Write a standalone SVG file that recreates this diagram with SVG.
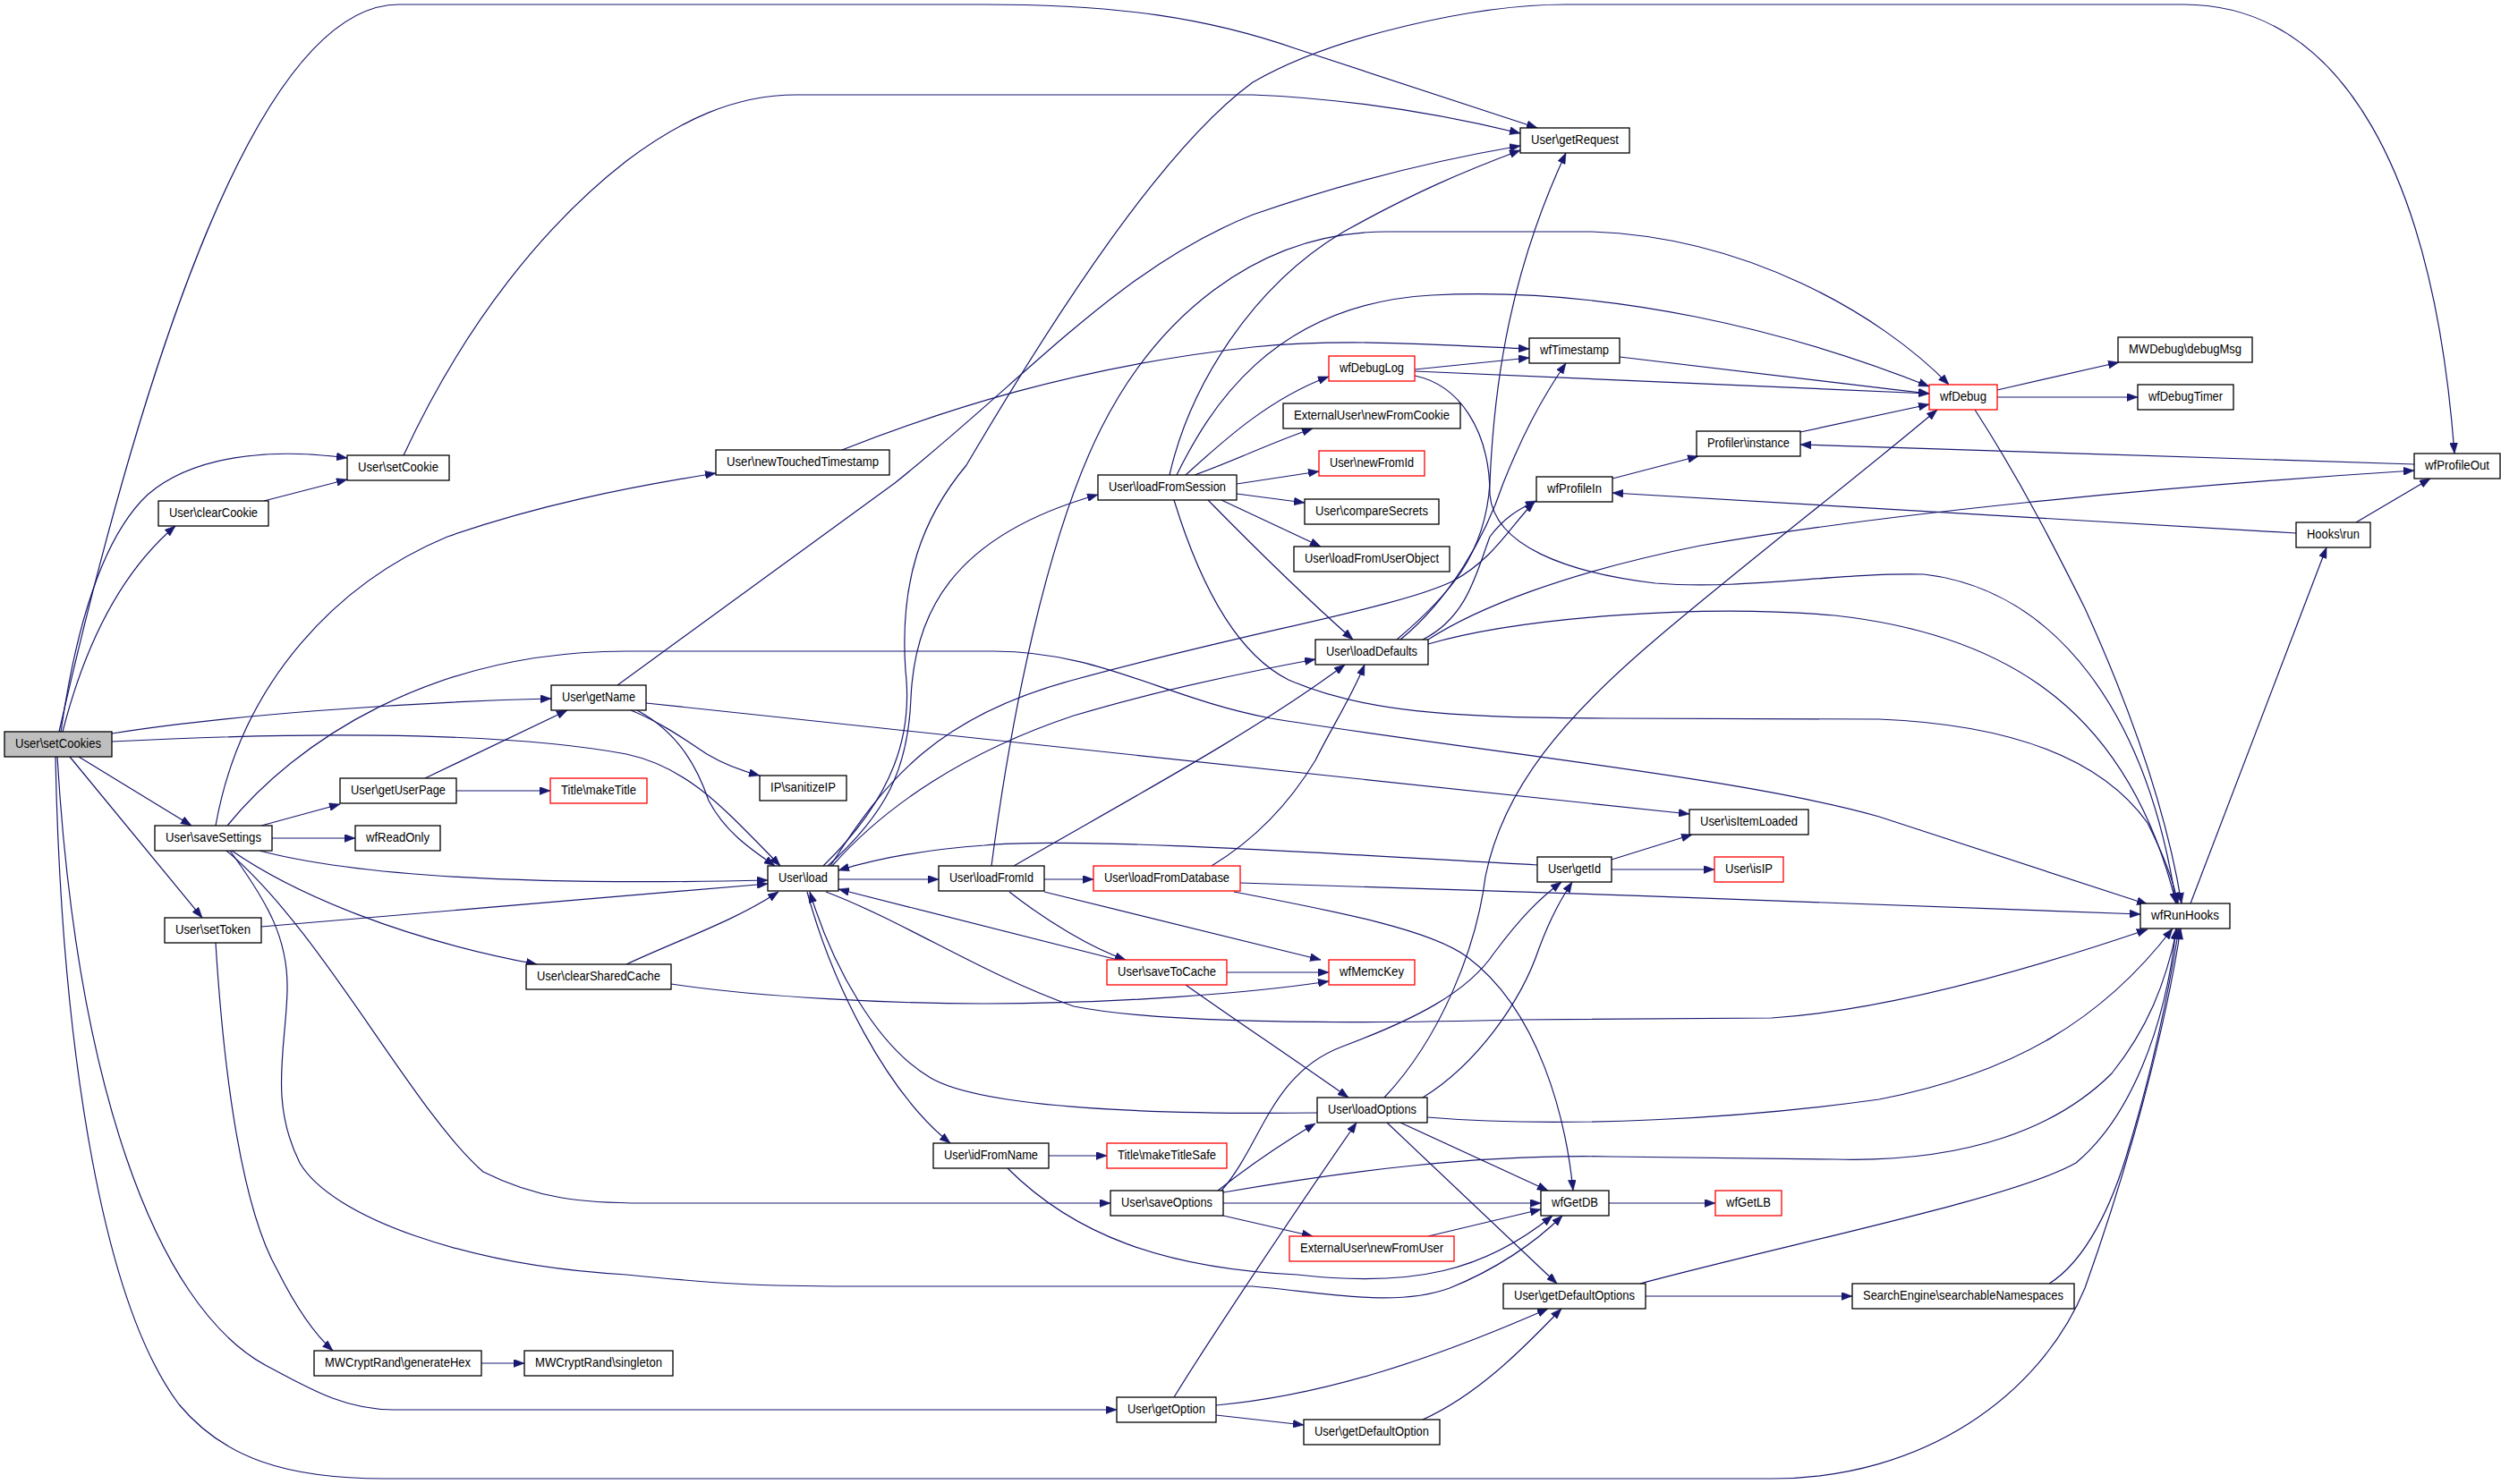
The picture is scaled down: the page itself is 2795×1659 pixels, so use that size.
<svg xmlns="http://www.w3.org/2000/svg" width="2795" height="1659" viewBox="0 0 2795 1659">
<style>
.n rect{fill:#fff;stroke:#000;stroke-width:1.3}
.n.r rect{stroke:#ff0000}
.n.g rect{fill:#bfbfbf}
.n text{font-family:"Liberation Sans",Arial,sans-serif;font-size:14.5px;text-anchor:middle;fill:#000}
.e path{fill:none;stroke:#191970;stroke-width:1.2;marker-end:url(#a)}
</style>
<defs>
<marker id="a" viewBox="0 0 12 9" refX="12" refY="4.5" markerWidth="12" markerHeight="9" markerUnits="userSpaceOnUse" orient="auto">
<path d="M0,0 L12,4.5 L0,9 z" fill="#191970" stroke="#191970" stroke-width="0.5"/>
</marker>
</defs>
<rect width="2795" height="1659" fill="#fff"/>
<g class="e" id="edges">
<path d="M66,818 C150,450 280,5 446,5 L1100,5 C1250,5 1350,20 1450,55 L1718,143"/>
<path d="M68,818 C85,700 115,600 165,553 C215,510 300,500 388,512"/>
<path d="M70,818 C95,720 135,640 196,588"/>
<path d="M295,560 L388,536"/>
<path d="M451,509 C520,360 610,250 700,180 C760,135 820,106 890,106 L1400,106 C1500,110 1600,125 1699,149"/>
<path d="M125,820 C250,800 450,785 616,781"/>
<path d="M125,829 C300,820 550,815 700,843 C770,858 810,905 872,968"/>
<path d="M88,846 L214,923"/>
<path d="M78,846 L226,1026"/>
<path d="M64,846 C85,1200 170,1460 300,1528 C345,1552 385,1576 440,1576 L1248,1576"/>
<path d="M62,846 C68,1150 110,1450 200,1570 C250,1630 320,1653 430,1653 L1980,1653 C2150,1653 2280,1560 2330,1440 C2380,1300 2420,1150 2437,1038"/>
<path d="M241,923 C270,760 380,650 500,600 C600,565 700,545 800,529"/>
<path d="M254,923 C330,830 480,728 700,728 L1110,728 C1230,728 1300,780 1420,803 C1650,840 1950,870 2100,913 L2400,1011"/>
<path d="M292,923 L380,899"/>
<path d="M304,937 L397,937"/>
<path d="M290,951 C400,980 600,990 858,984"/>
<path d="M259,951 C330,1000 450,1050 600,1078"/>
<path d="M253,951 C360,1040 460,1240 540,1310 C600,1340 650,1345 720,1345 L1241,1345"/>
<path d="M257,951 C300,1010 322,1050 321,1106 C320,1170 300,1230 335,1300 C370,1360 520,1415 700,1425 C800,1435 850,1438 950,1438 L1400,1438 C1480,1445 1560,1462 1620,1440 C1670,1420 1715,1390 1746,1359"/>
<path d="M475,870 L634,794"/>
<path d="M510,884 L615,884"/>
<path d="M690,766 L1000,540 C1150,420 1250,300 1400,240 C1500,205 1600,180 1699,163"/>
<path d="M712,794 C760,820 780,860 792,895 C810,930 840,950 866,968"/>
<path d="M705,794 C740,808 770,830 790,843 C810,855 830,862 849,867"/>
<path d="M722,786 L1888,910"/>
<path d="M920,968 C1000,890 1020,820 1012,750 C1005,650 1030,580 1080,520 C1180,350 1300,165 1400,92 C1490,40 1650,5 1750,5 L2440,5 C2620,5 2720,200 2743,507"/>
<path d="M925,968 C990,910 1015,860 1018,780 C1022,690 1060,600 1227,553"/>
<path d="M928,968 C990,870 1050,800 1200,760 C1400,705 1560,680 1623,650 C1670,625 1690,585 1715,561"/>
<path d="M930,968 C990,900 1080,840 1200,800 C1300,770 1400,750 1470,737"/>
<path d="M937,983 L1049,983"/>
<path d="M902,997 C930,1100 990,1220 1062,1278"/>
<path d="M923,997 C1010,1030 1100,1090 1200,1125 C1300,1145 1500,1145 1700,1140 L1980,1138 C2100,1130 2250,1090 2400,1039"/>
<path d="M1472,1244 C1300,1246 1100,1240 1040,1205 C980,1170 930,1080 905,997"/>
<path d="M1718,967 C1500,955 1200,935 1100,945 C1030,950 980,960 937,973"/>
<path d="M1249,1073 L937,994"/>
<path d="M700,1078 C760,1050 820,1030 870,997"/>
<path d="M292,1036 L858,988"/>
<path d="M750,1100 C850,1115 1000,1122 1100,1122 C1250,1122 1400,1110 1485,1097"/>
<path d="M241,1054 C250,1200 270,1350 310,1420 C330,1460 350,1490 372,1510"/>
<path d="M538,1524 L586,1524"/>
<path d="M1167,983 L1222,983"/>
<path d="M1108,968 C1130,800 1170,600 1230,480 C1290,360 1400,259 1550,259 L1779,259 C1950,265 2100,350 2178,430"/>
<path d="M1133,968 C1250,900 1400,820 1503,743"/>
<path d="M1128,997 C1170,1030 1220,1060 1258,1073"/>
<path d="M1167,997 L1476,1073"/>
<path d="M1354,968 C1400,940 1440,900 1470,850 C1490,810 1510,780 1525,743"/>
<path d="M1386,987 C1700,995 2100,1012 2392,1022"/>
<path d="M1379,997 C1500,1020 1600,1040 1640,1070 C1720,1130 1750,1250 1758,1331"/>
<path d="M1371,1087 L1485,1087"/>
<path d="M1325,1101 C1380,1140 1440,1180 1507,1227"/>
<path d="M1172,1292 L1237,1292"/>
<path d="M1126,1306 C1200,1380 1300,1418 1450,1425 C1580,1440 1660,1420 1735,1359"/>
<path d="M1361,1331 C1400,1300 1430,1280 1470,1256"/>
<path d="M1365,1331 C1410,1280 1420,1200 1500,1170 C1580,1140 1640,1110 1670,1065 C1700,1025 1720,1005 1745,986"/>
<path d="M1367,1345 L1722,1345"/>
<path d="M1367,1359 L1467,1382"/>
<path d="M1367,1333 C1500,1310 1650,1290 1800,1293 L2050,1296 C2200,1300 2300,1260 2360,1200 C2400,1150 2420,1100 2433,1038"/>
<path d="M1590,1227 C1650,1190 1700,1120 1720,1060 C1735,1020 1748,1000 1757,986"/>
<path d="M1547,1227 C1610,1160 1650,1060 1660,980 C1680,880 1750,800 1850,715 C1950,630 2080,530 2165,458"/>
<path d="M1595,1249 C1750,1262 1950,1250 2100,1229 C2250,1200 2350,1140 2428,1038"/>
<path d="M1565,1255 L1730,1331"/>
<path d="M1550,1255 L1740,1435"/>
<path d="M1312,1562 C1350,1500 1450,1350 1516,1255"/>
<path d="M1359,1571 C1480,1560 1600,1520 1730,1463"/>
<path d="M1359,1582 L1457,1593"/>
<path d="M1590,1587 C1650,1560 1700,1510 1745,1463"/>
<path d="M1798,1345 L1917,1345"/>
<path d="M1596,1382 L1722,1352"/>
<path d="M1839,1449 L2070,1449"/>
<path d="M1833,1435 C2000,1390 2250,1340 2320,1300 C2380,1250 2420,1150 2432,1038"/>
<path d="M2290,1435 C2330,1410 2360,1350 2380,1280 C2410,1180 2425,1100 2435,1038"/>
<path d="M1801,961 L1891,933"/>
<path d="M1801,972 L1916,972"/>
<path d="M1307,531 C1330,430 1400,320 1500,260 C1580,215 1640,190 1699,168"/>
<path d="M1315,531 C1350,460 1420,340 1600,330 C1800,320 2000,370 2156,432"/>
<path d="M1325,531 C1370,490 1420,445 1485,421"/>
<path d="M1335,531 C1380,515 1420,495 1467,479"/>
<path d="M1382,541 L1474,527"/>
<path d="M1382,552 L1458,562"/>
<path d="M1365,559 L1476,611"/>
<path d="M1350,559 C1400,610 1450,660 1512,715"/>
<path d="M1312,559 C1340,650 1380,730 1440,760 C1520,795 1620,803 1800,803 L2100,804 C2250,810 2350,850 2400,920 C2420,960 2430,990 2434,1010"/>
<path d="M1581,413 L1709,400"/>
<path d="M1581,415 C1800,425 2000,432 2156,440"/>
<path d="M1581,420 C1630,430 1665,480 1665,553 C1670,610 1750,640 1850,652 C1950,660 2050,640 2150,642 C2300,660 2400,800 2432,1010"/>
<path d="M1561,715 C1620,665 1660,620 1665,540 C1670,420 1690,300 1750,171"/>
<path d="M1565,715 C1620,670 1660,600 1680,540 C1700,490 1720,450 1750,406"/>
<path d="M1590,715 C1640,690 1650,640 1665,600 C1680,580 1695,570 1717,560"/>
<path d="M1596,715 C1650,680 1750,640 1900,610 C2100,575 2400,545 2698,526"/>
<path d="M1596,720 C1700,690 1900,675 2050,688 C2250,710 2380,800 2432,1010"/>
<path d="M1802,535 L1898,510"/>
<path d="M2566,596 L1802,551"/>
<path d="M2698,519 L2012,497"/>
<path d="M2633,584 L2716,535"/>
<path d="M2012,483 L2156,452"/>
<path d="M2232,436 L2368,405"/>
<path d="M2232,444 L2389,444"/>
<path d="M1810,399 C1950,415 2050,428 2156,440"/>
<path d="M941,503 C1050,460 1200,410 1400,388 C1500,378 1600,385 1709,390"/>
<path d="M2207,458 C2260,540 2300,620 2330,680 C2380,790 2420,900 2438,1010"/>
<path d="M2448,1010 L2600,612"/>
</g>
<g id="n_setCookies" class="n g"><rect x="5" y="818" width="120" height="28"/><text x="65" y="836" textLength="96" lengthAdjust="spacingAndGlyphs">User\setCookies</text></g>
<g id="n_setCookie" class="n"><rect x="388" y="509" width="114" height="28"/><text x="445" y="527" textLength="90" lengthAdjust="spacingAndGlyphs">User\setCookie</text></g>
<g id="n_clearCookie" class="n"><rect x="177" y="560" width="123" height="28"/><text x="238.5" y="578" textLength="99" lengthAdjust="spacingAndGlyphs">User\clearCookie</text></g>
<g id="n_newTouchedTimestamp" class="n"><rect x="800" y="503" width="194" height="28"/><text x="897" y="521" textLength="170" lengthAdjust="spacingAndGlyphs">User\newTouchedTimestamp</text></g>
<g id="n_getRequest" class="n"><rect x="1699" y="143" width="122" height="28"/><text x="1760" y="161" textLength="98" lengthAdjust="spacingAndGlyphs">User\getRequest</text></g>
<g id="n_wfTimestamp" class="n"><rect x="1709" y="378" width="101" height="28"/><text x="1759.5" y="396" textLength="77" lengthAdjust="spacingAndGlyphs">wfTimestamp</text></g>
<g id="n_wfDebugLog" class="n r"><rect x="1485" y="398" width="96" height="28"/><text x="1533" y="416" textLength="72" lengthAdjust="spacingAndGlyphs">wfDebugLog</text></g>
<g id="n_newFromCookie" class="n"><rect x="1434" y="451" width="198" height="28"/><text x="1533" y="469" textLength="174" lengthAdjust="spacingAndGlyphs">ExternalUser\newFromCookie</text></g>
<g id="n_newFromId" class="n r"><rect x="1474" y="504" width="118" height="28"/><text x="1533" y="522" textLength="94" lengthAdjust="spacingAndGlyphs">User\newFromId</text></g>
<g id="n_compareSecrets" class="n"><rect x="1458" y="558" width="150" height="28"/><text x="1533" y="576" textLength="126" lengthAdjust="spacingAndGlyphs">User\compareSecrets</text></g>
<g id="n_loadFromUserObject" class="n"><rect x="1446" y="611" width="174" height="28"/><text x="1533" y="629" textLength="150" lengthAdjust="spacingAndGlyphs">User\loadFromUserObject</text></g>
<g id="n_loadFromSession" class="n"><rect x="1227" y="531" width="155" height="28"/><text x="1304.5" y="549" textLength="131" lengthAdjust="spacingAndGlyphs">User\loadFromSession</text></g>
<g id="n_loadDefaults" class="n"><rect x="1470" y="715" width="126" height="28"/><text x="1533" y="733" textLength="102" lengthAdjust="spacingAndGlyphs">User\loadDefaults</text></g>
<g id="n_wfProfileIn" class="n"><rect x="1717" y="533" width="85" height="28"/><text x="1759.5" y="551" textLength="61" lengthAdjust="spacingAndGlyphs">wfProfileIn</text></g>
<g id="n_profilerInstance" class="n"><rect x="1896" y="482" width="116" height="28"/><text x="1954" y="500" textLength="92" lengthAdjust="spacingAndGlyphs">Profiler\instance</text></g>
<g id="n_wfDebug" class="n r"><rect x="2156" y="430" width="76" height="28"/><text x="2194" y="448" textLength="52" lengthAdjust="spacingAndGlyphs">wfDebug</text></g>
<g id="n_debugMsg" class="n"><rect x="2367" y="377" width="150" height="28"/><text x="2442" y="395" textLength="126" lengthAdjust="spacingAndGlyphs">MWDebug\debugMsg</text></g>
<g id="n_wfDebugTimer" class="n"><rect x="2389" y="430" width="107" height="28"/><text x="2442.5" y="448" textLength="83" lengthAdjust="spacingAndGlyphs">wfDebugTimer</text></g>
<g id="n_wfProfileOut" class="n"><rect x="2698" y="507" width="96" height="28"/><text x="2746" y="525" textLength="72" lengthAdjust="spacingAndGlyphs">wfProfileOut</text></g>
<g id="n_hooksRun" class="n"><rect x="2566" y="584" width="83" height="28"/><text x="2607.5" y="602" textLength="59" lengthAdjust="spacingAndGlyphs">Hooks\run</text></g>
<g id="n_getName" class="n"><rect x="616" y="766" width="106" height="28"/><text x="669" y="784" textLength="82" lengthAdjust="spacingAndGlyphs">User\getName</text></g>
<g id="n_sanitizeIP" class="n"><rect x="849" y="867" width="97" height="28"/><text x="897.5" y="885" textLength="73" lengthAdjust="spacingAndGlyphs">IP\sanitizeIP</text></g>
<g id="n_getUserPage" class="n"><rect x="380" y="870" width="130" height="28"/><text x="445" y="888" textLength="106" lengthAdjust="spacingAndGlyphs">User\getUserPage</text></g>
<g id="n_makeTitle" class="n r"><rect x="615" y="870" width="108" height="28"/><text x="669" y="888" textLength="84" lengthAdjust="spacingAndGlyphs">Title\makeTitle</text></g>
<g id="n_saveSettings" class="n"><rect x="173" y="923" width="131" height="28"/><text x="238.5" y="941" textLength="107" lengthAdjust="spacingAndGlyphs">User\saveSettings</text></g>
<g id="n_wfReadOnly" class="n"><rect x="397" y="923" width="95" height="28"/><text x="444.5" y="941" textLength="71" lengthAdjust="spacingAndGlyphs">wfReadOnly</text></g>
<g id="n_load" class="n"><rect x="858" y="968" width="79" height="28"/><text x="897.5" y="986" textLength="55" lengthAdjust="spacingAndGlyphs">User\load</text></g>
<g id="n_loadFromId" class="n"><rect x="1049" y="968" width="118" height="28"/><text x="1108" y="986" textLength="94" lengthAdjust="spacingAndGlyphs">User\loadFromId</text></g>
<g id="n_loadFromDatabase" class="n r"><rect x="1222" y="968" width="164" height="28"/><text x="1304" y="986" textLength="140" lengthAdjust="spacingAndGlyphs">User\loadFromDatabase</text></g>
<g id="n_isItemLoaded" class="n"><rect x="1888" y="905" width="133" height="28"/><text x="1954.5" y="923" textLength="109" lengthAdjust="spacingAndGlyphs">User\isItemLoaded</text></g>
<g id="n_getId" class="n"><rect x="1718" y="958" width="83" height="28"/><text x="1759.5" y="976" textLength="59" lengthAdjust="spacingAndGlyphs">User\getId</text></g>
<g id="n_isIP" class="n r"><rect x="1916" y="958" width="77" height="28"/><text x="1954.5" y="976" textLength="53" lengthAdjust="spacingAndGlyphs">User\isIP</text></g>
<g id="n_wfRunHooks" class="n"><rect x="2392" y="1010" width="100" height="28"/><text x="2442" y="1028" textLength="76" lengthAdjust="spacingAndGlyphs">wfRunHooks</text></g>
<g id="n_setToken" class="n"><rect x="184" y="1026" width="108" height="28"/><text x="238" y="1044" textLength="84" lengthAdjust="spacingAndGlyphs">User\setToken</text></g>
<g id="n_clearSharedCache" class="n"><rect x="588" y="1078" width="162" height="28"/><text x="669" y="1096" textLength="138" lengthAdjust="spacingAndGlyphs">User\clearSharedCache</text></g>
<g id="n_saveToCache" class="n r"><rect x="1237" y="1073" width="134" height="28"/><text x="1304" y="1091" textLength="110" lengthAdjust="spacingAndGlyphs">User\saveToCache</text></g>
<g id="n_wfMemcKey" class="n r"><rect x="1485" y="1073" width="96" height="28"/><text x="1533" y="1091" textLength="72" lengthAdjust="spacingAndGlyphs">wfMemcKey</text></g>
<g id="n_loadOptions" class="n"><rect x="1472" y="1227" width="123" height="28"/><text x="1533.5" y="1245" textLength="99" lengthAdjust="spacingAndGlyphs">User\loadOptions</text></g>
<g id="n_idFromName" class="n"><rect x="1043" y="1278" width="129" height="28"/><text x="1107.5" y="1296" textLength="105" lengthAdjust="spacingAndGlyphs">User\idFromName</text></g>
<g id="n_makeTitleSafe" class="n r"><rect x="1237" y="1278" width="134" height="28"/><text x="1304" y="1296" textLength="110" lengthAdjust="spacingAndGlyphs">Title\makeTitleSafe</text></g>
<g id="n_saveOptions" class="n"><rect x="1241" y="1331" width="126" height="28"/><text x="1304" y="1349" textLength="102" lengthAdjust="spacingAndGlyphs">User\saveOptions</text></g>
<g id="n_wfGetDB" class="n"><rect x="1722" y="1331" width="76" height="28"/><text x="1760" y="1349" textLength="52" lengthAdjust="spacingAndGlyphs">wfGetDB</text></g>
<g id="n_wfGetLB" class="n r"><rect x="1917" y="1331" width="74" height="28"/><text x="1954" y="1349" textLength="50" lengthAdjust="spacingAndGlyphs">wfGetLB</text></g>
<g id="n_newFromUser" class="n r"><rect x="1441" y="1382" width="184" height="28"/><text x="1533" y="1400" textLength="160" lengthAdjust="spacingAndGlyphs">ExternalUser\newFromUser</text></g>
<g id="n_getDefaultOptions" class="n"><rect x="1680" y="1435" width="159" height="28"/><text x="1759.5" y="1453" textLength="135" lengthAdjust="spacingAndGlyphs">User\getDefaultOptions</text></g>
<g id="n_searchableNamespaces" class="n"><rect x="2070" y="1435" width="248" height="28"/><text x="2194" y="1453" textLength="224" lengthAdjust="spacingAndGlyphs">SearchEngine\searchableNamespaces</text></g>
<g id="n_generateHex" class="n"><rect x="351" y="1510" width="187" height="28"/><text x="444.5" y="1528" textLength="163" lengthAdjust="spacingAndGlyphs">MWCryptRand\generateHex</text></g>
<g id="n_singleton" class="n"><rect x="586" y="1510" width="166" height="28"/><text x="669" y="1528" textLength="142" lengthAdjust="spacingAndGlyphs">MWCryptRand\singleton</text></g>
<g id="n_getOption" class="n"><rect x="1248" y="1562" width="111" height="28"/><text x="1303.5" y="1580" textLength="87" lengthAdjust="spacingAndGlyphs">User\getOption</text></g>
<g id="n_getDefaultOption" class="n"><rect x="1457" y="1587" width="152" height="28"/><text x="1533" y="1605" textLength="128" lengthAdjust="spacingAndGlyphs">User\getDefaultOption</text></g>
</svg>
